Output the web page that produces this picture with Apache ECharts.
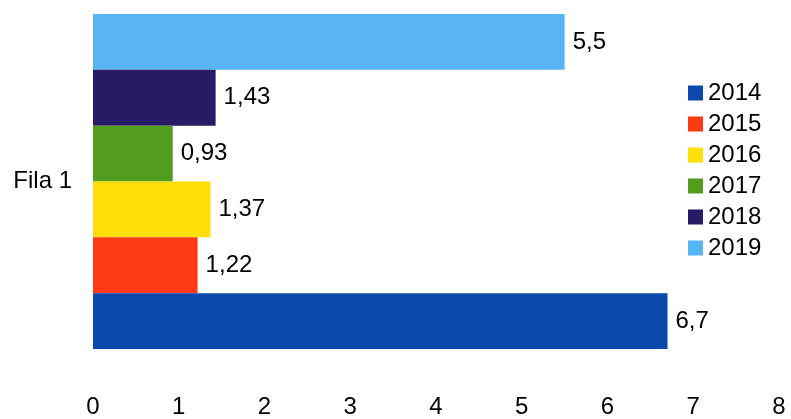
<!DOCTYPE html>
<html><head><meta charset="utf-8">
<script src="https://cdn.jsdelivr.net/npm/echarts@6/dist/echarts.min.js"></script>
<style>html,body{margin:0;padding:0;background:#fff}#c{width:791px;height:419px}</style>
</head><body><div id="c"></div>
<script>
const categories = ['Fila 1'];
const seriesNames = ['2014', '2015', '2016', '2017', '2018', '2019'];
const v2014 = [6.7];
const v2015 = [1.22];
const v2016 = [1.37];
const v2017 = [0.93];
const v2018 = [1.43];
const v2019 = [5.5];
const xTicks = [0, 1, 2, 3, 4, 5, 6, 7, 8];
const colors = ['#0a49ab', '#ff3b16', '#ffdf05', '#529c1e', '#281b66', '#58b4f5'];
const allValues = [v2014, v2015, v2016, v2017, v2018, v2019];

const chart = echarts.init(document.getElementById('c'));
const font = 'Liberation Sans';
const series = seriesNames.map((n, i) => ({
  name: n, type: 'bar', data: allValues[i],
  barGap: '0%', barCategoryGap: '0%',
  itemStyle: { color: colors[i] },
  label: {
    show: true, position: 'right', distance: 8, fontSize: 24, color: '#000', fontFamily: font,
    formatter: p => String(p.value).replace('.', ',')
  }
})).reverse();
chart.setOption({
  animation: false,
  textStyle: { fontFamily: font },
  grid: { left: 93, right: 12, top: 14, bottom: 70 },
  legend: {
    orient: 'vertical', left: 683, top: 76,
    itemWidth: 15, itemHeight: 15, itemGap: 7,
    icon: 'rect',
    textStyle: { fontSize: 24, color: '#000', fontFamily: font },
    data: seriesNames
  },
  xAxis: {
    type: 'value', min: xTicks[0], max: xTicks[xTicks.length - 1], interval: 1,
    axisLine: { show: false }, axisTick: { show: false }, splitLine: { show: false },
    axisLabel: { fontSize: 24, color: '#000', margin: 46, fontFamily: font }
  },
  yAxis: {
    type: 'category', data: categories,
    axisLine: { show: false }, axisTick: { show: false },
    axisLabel: { fontSize: 24, color: '#000', margin: 21, fontFamily: font }
  },
  series: series
});
</script></body></html>
